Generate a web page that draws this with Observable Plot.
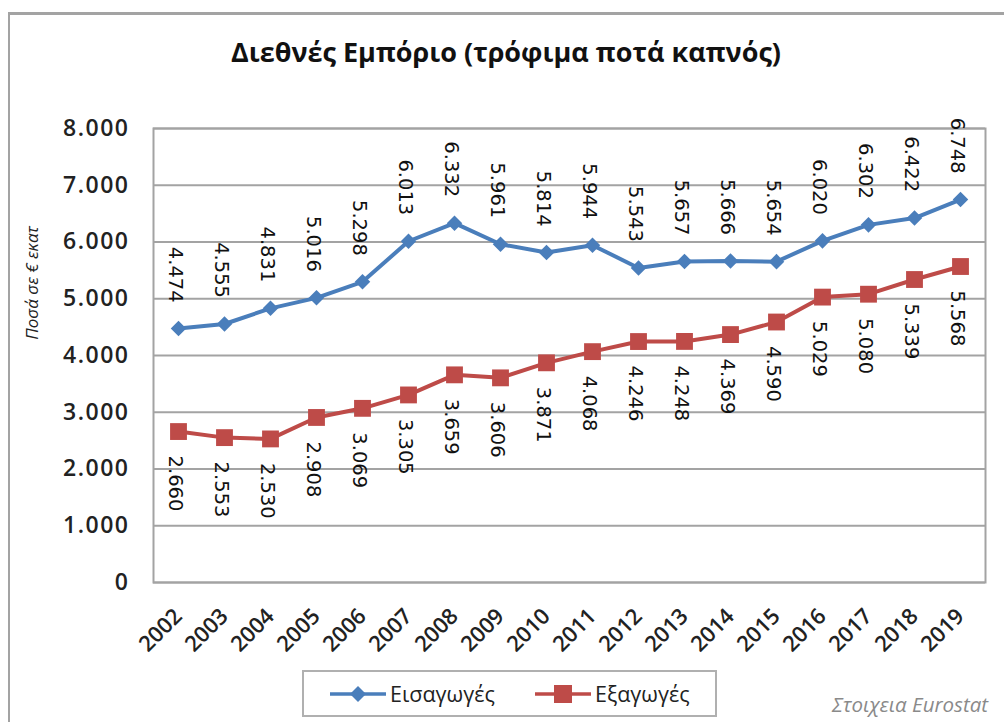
<!DOCTYPE html>
<html>
<head>
<meta charset="utf-8">
<script src="https://cdn.jsdelivr.net/npm/d3@7"></script>
<script src="https://cdn.jsdelivr.net/npm/@observablehq/plot@0.6"></script>
<style>
  html, body { margin: 0; padding: 0; background: #fff; }
  #root { position: relative; width: 1004px; height: 722px; overflow: hidden; background: #fff; }
  #outer { position: absolute; left: 8px; top: 12px; width: 1100px; height: 800px;
           border-left: 2px solid #a3a3a3; border-top: 3px solid #a3a3a3; box-sizing: border-box; }
  #title { position: absolute; left: 0; width: 1012px; top: 33px; text-align: center;
           font-family: "Open Sans", sans-serif; font-weight: 700; font-size: 27px; color: #111; }
  #ylabel { position: absolute; left: 31px; top: 283px; transform: translate(-50%, -50%) rotate(-90deg);
            font-family: "Open Sans", sans-serif; font-style: italic; font-size: 17px; color: #222; white-space: nowrap; }
  #chart { position: absolute; left: 0; top: 0; }
  #chart g[aria-label="y-axis tick label"] text { letter-spacing: 1.5px; font-size: 23px; }
  #legend { position: absolute; left: 302px; top: 670px; width: 415px; height: 47px; box-sizing: border-box;
            border: 2px solid #b0b0b0; background: #fff; }
  #legend .item { position: absolute; top: 0; height: 43px; display: flex; align-items: center;
                  font-family: "Open Sans", sans-serif; font-size: 21.5px; color: #222; }
  #caption { position: absolute; left: 832px; top: 690px; font-family: "Open Sans", sans-serif;
             font-style: italic; font-size: 20.5px; color: #8a8a8a; }
</style>
</head>
<body>
<div id="root">
  <div id="outer"></div>
  <div id="chart"></div>
  <div id="title"></div>
  <div id="ylabel"></div>
  <div id="legend"></div>
  <div id="caption"></div>
</div>
<script>
// ---- data ----
const titleText = "Διεθνές Εμπόριο (τρόφιμα ποτά καπνός)";
const yLabelText = "Ποσά σε € εκατ";
const captionText = "Στοιχεια Eurostat";
const years = ["2002","2003","2004","2005","2006","2007","2008","2009","2010","2011","2012","2013","2014","2015","2016","2017","2018","2019"];
const importsValues = [4474,4555,4831,5016,5298,6013,6332,5961,5814,5944,5543,5657,5666,5654,6020,6302,6422,6748];
const exportsValues = [2660,2553,2530,2908,3069,3305,3659,3606,3871,4068,4246,4248,4369,4590,5029,5080,5339,5568];
const seriesNames = ["Εισαγωγές","Εξαγωγές"];
const seriesColors = ["#4a7ebb","#be4b48"];
const yTicks = [0,1000,2000,3000,4000,5000,6000,7000,8000];

// ---- build ----
const fmt = v => v === 0 ? "0" : d3.format(",")(v).replace(/,/g, ".");
const importRows = years.map((y, i) => ({year: y, value: importsValues[i]}));
const exportRows = years.map((y, i) => ({year: y, value: exportsValues[i]}));

document.getElementById("title").textContent = titleText;
document.getElementById("ylabel").textContent = yLabelText;
document.getElementById("caption").textContent = captionText;

const labelFont = "DejaVu Sans, sans-serif";

const chart = Plot.plot({
  width: 1004,
  height: 665,
  marginLeft: 153,
  marginRight: 19,
  marginTop: 128,
  marginBottom: 83,
  style: {fontFamily: "Open Sans, sans-serif", fontSize: "22px", fontWeight: 600, color: "#222", background: "transparent"},
  x: {type: "point", domain: years, padding: 0.5, label: null, tickSize: 0, tickRotate: -45, tickPadding: 30},
  y: {domain: [0, 8000], ticks: yTicks, tickFormat: fmt, label: null, tickSize: 0, tickPadding: 24},
  marks: [
    Plot.gridY(yTicks, {stroke: "#a3a3a3", strokeWidth: 2, strokeOpacity: 1}),
    Plot.frame({stroke: "#a3a3a3", strokeWidth: 2}),
    Plot.line(importRows, {x: "year", y: "value", stroke: seriesColors[0], strokeWidth: 4}),
    Plot.dot(importRows, {x: "year", y: "value", symbol: "diamond2", fill: seriesColors[0], r: 7}),
    Plot.line(exportRows, {x: "year", y: "value", stroke: seriesColors[1], strokeWidth: 4}),
    Plot.dot(exportRows, {x: "year", y: "value", symbol: "square", fill: seriesColors[1], r: 9.5}),
    Plot.text(importRows, {x: "year", y: "value", text: d => fmt(d.value), rotate: 90, textAnchor: "end",
      dy: -26, dx: -3, fontSize: 19.5, fontWeight: 400, fontFamily: labelFont, fill: "#111"}),
    Plot.text(exportRows, {x: "year", y: "value", text: d => fmt(d.value), rotate: 90, textAnchor: "start",
      dy: 24, dx: -3, fontSize: 19.5, fontWeight: 400, fontFamily: labelFont, fill: "#111"})
  ]
});
document.getElementById("chart").appendChild(chart);

// ---- legend ----
const legend = document.getElementById("legend");
const legendDefs = [
  {name: seriesNames[0], color: seriesColors[0], symbol: "diamond", left: 26},
  {name: seriesNames[1], color: seriesColors[1], symbol: "square", left: 231}
];
legendDefs.forEach(d => {
  const item = document.createElement("div");
  item.className = "item";
  item.style.left = d.left + "px";
  const sym = d.symbol === "diamond"
    ? `<path d="M28,13 L36,21 L28,29 L20,21 Z" fill="${d.color}"/>`
    : `<rect x="19" y="12" width="18" height="18" fill="${d.color}"/>`;
  item.innerHTML = `<svg width="58" height="42" style="margin-right:2px"><line x1="0" x2="56" y1="21" y2="21" stroke="${d.color}" stroke-width="3.5"/>${sym}</svg><span>${d.name}</span>`;
  legend.appendChild(item);
});
</script>
</body>
</html>
